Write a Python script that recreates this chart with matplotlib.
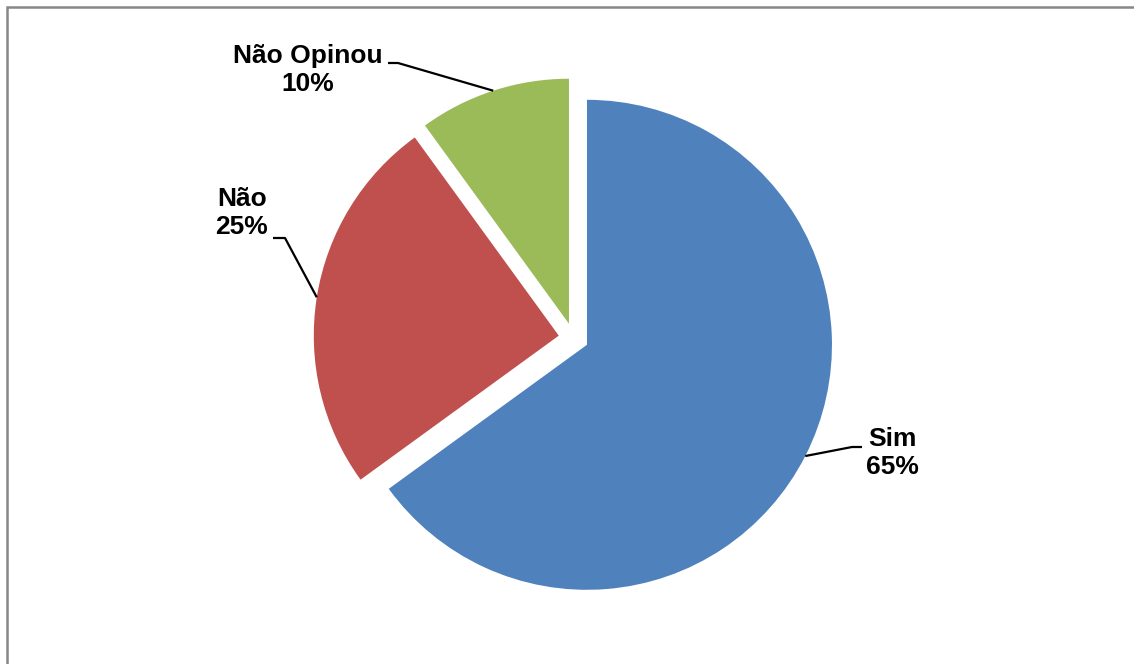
import numpy as np
import matplotlib.pyplot as plt
from matplotlib.patches import Rectangle

plt.rcParams['font.family'] = ['Liberation Sans', 'DejaVu Sans']

# Respostas
labels = ["Sim", "Não", "Não Opinou"]
percent = [65, 25, 10]
colors = ["#4F81BD", "#C0504D", "#9BBB59"]

# posição dos rótulos e cotovelo da linha de chamada (em pixels)
label_pos = [(892, 211), (242, 451), (308, 594)]
elbow = [(852, 217), (285, 426), (398, 601)]
line_start = [(862, 217), (273, 426), (388, 601)]

W, H = 1134, 664
fig = plt.figure(figsize=(W / 100, H / 100), dpi=100)
ax = fig.add_axes([0, 0, 1, 1])

center = (573.6, 326)
radius = 245
explode = [15] * len(percent)  # deslocamento em pixels

wedges, _ = ax.pie(percent, colors=colors, startangle=90, counterclock=False,
                   explode=explode, center=center, radius=radius,
                   wedgeprops=dict(linewidth=0))

# pie() mexe nos limites, então fixa depois
ax.set_xlim(0, W)
ax.set_ylim(0, H)
ax.set_aspect("equal")
ax.axis("off")

for w, lab, p, pos, el, st in zip(wedges, labels, percent, label_pos, elbow, line_start):
    ang = np.deg2rad((w.theta1 + w.theta2) / 2)
    cx, cy = w.center
    ax_pt = (cx + w.r * np.cos(ang), cy + w.r * np.sin(ang))
    ax.plot([ax_pt[0], el[0], st[0]], [ax_pt[1], el[1], st[1]],
            color="black", lw=1.6, solid_capstyle="butt")
    ax.text(pos[0], pos[1], f"{lab}\n{p}%", ha="center", va="center",
            fontsize=19, fontweight="bold", linespacing=1.25)

# moldura do gráfico
ax.add_patch(Rectangle((7, -20), W + 20, H - 7 + 20, fill=False,
                       edgecolor="#878787", lw=1.8, clip_on=False))

fig.savefig("out.png", dpi=100)
